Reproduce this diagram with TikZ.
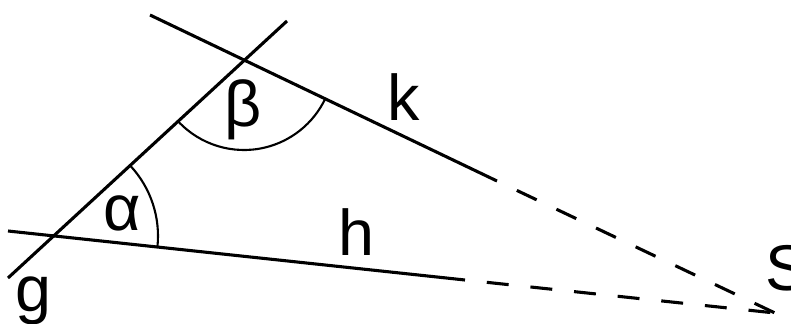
\documentclass[tikz,border=0pt]{standalone}
\usepackage{fontspec}
\setmainfont{Liberation Sans}
\usetikzlibrary{calc}

\begin{document}
\begin{tikzpicture}[line width=2.2pt,
    lbl/.style={anchor=base, inner sep=0pt, font=\fontsize{46}{50}\selectfont},
    dashline/.style={dash pattern=on 15.6pt off 15.6pt, dash phase=15.6pt},
    anglearc/.style={line width=1.5pt}]
  \clip (0,0) rectangle (19.775,8.075);
  % points
  \coordinate (A) at (1.375,2.175);
  \coordinate (B) at (6.1,6.575);
  \coordinate (S) at (19.375,0.25);
  \coordinate (g1) at (0.2,1.125);
  \coordinate (g2) at (7.175,7.55);
  \coordinate (h1) at (0.2,2.3);
  \coordinate (h2) at (11.625,1.075);
  \coordinate (k1) at (3.75,7.7);
  \coordinate (k2) at (12.425,3.55);
  % lines
  \draw (g1) -- (g2);
  \draw (h1) -- (h2);
  \draw (k1) -- (k2);
  \draw[dashline] (h2) -- (S);
  \draw[dashline] (k2) -- (S);
  % angles
  \draw[anglearc] (A) ++(-6.1:2.575) arc[start angle=-6.1, end angle=42.6, radius=2.575];
  \draw[anglearc] (B) ++(-137:2.25) arc[start angle=-137, end angle=-25.5, radius=2.25];
  % labels
  \node[lbl] (alpha) at (3.05,2.325) {α};
  \node[lbl] (beta) at (6.075,4.925) {β};
  \node[lbl] (glbl) at (0.825,0.3) {g};
  \node[lbl] (hlbl) at (8.9,1.7) {h};
  \node[lbl] (klbl) at (10.1,5.075) {k};
  \node[lbl, anchor=base west] (slbl) at (19.1,0.825) {S};
\end{tikzpicture}
\end{document}
